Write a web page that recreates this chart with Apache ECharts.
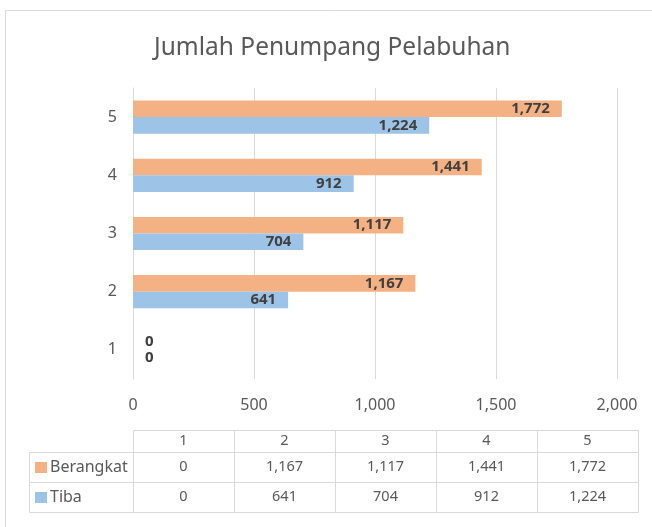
<!DOCTYPE html>
<html>
<head>
<meta charset="utf-8">
<title>Jumlah Penumpang Pelabuhan</title>
<script src="https://cdn.jsdelivr.net/npm/echarts@6/dist/echarts.min.js"></script>
<style>
  html, body { margin: 0; padding: 0; background: #fff; }
  #chart { width: 652px; height: 527px; }
</style>
</head>
<body>
<div id="chart"></div>
<script>
// data
const categories = ['1', '2', '3', '4', '5'];
const berangkat = [0, 1167, 1117, 1441, 1772];
const tiba = [0, 641, 704, 912, 1224];
const xTicks = [0, 500, 1000, 1500, 2000];

const fmt = v => v.toLocaleString('en-US');
const textColor = '#595959';
const lineColor = '#d9d9d9';
const orange = '#f4b183';
const blue = '#9dc3e6';
const font = 'Noto Sans';

// zero bars get their label just right of the axis
function withLabels(values) {
  return values.map(v => v === 0 ? { value: v, label: { position: 'right', distance: 12 } } : v);
}

// data table under the chart
const tbl = { left: 29, keyRight: 133, colW: 101, top: 430, headH: 22, rowH: 30 };
const tableRows = [
  { name: 'Berangkat', color: orange, values: berangkat },
  { name: 'Tiba', color: blue, values: tiba }
];

function cellText(text, x, y) {
  return {
    type: 'text',
    style: { text: text, x: x, y: y, align: 'center', verticalAlign: 'middle',
             fill: textColor, fontSize: 14.5, fontFamily: font }
  };
}
function cellRect(x, y, w, h) {
  return {
    type: 'rect',
    shape: { x: x + 0.5, y: y + 0.5, width: w, height: h },
    style: { fill: 'none', stroke: lineColor, lineWidth: 1 }
  };
}

let graphics = [];
// outer chart border (right and bottom edges fall outside the picture)
graphics.push({
  type: 'rect', z: -10,
  shape: { x: 5.5, y: 10.5, width: 700, height: 600 },
  style: { fill: 'none', stroke: lineColor, lineWidth: 1 }
});
categories.forEach((c, i) => {
  let x = tbl.keyRight + i * tbl.colW;
  graphics.push(cellRect(x, tbl.top, tbl.colW, tbl.headH));
  graphics.push(cellText(c, x + tbl.colW / 2, tbl.top + tbl.headH / 2));
});
tableRows.forEach((row, r) => {
  let y = tbl.top + tbl.headH + r * tbl.rowH;
  graphics.push(cellRect(tbl.left, y, tbl.keyRight - tbl.left, tbl.rowH));
  graphics.push({
    type: 'rect',
    shape: { x: tbl.left + 6, y: y + tbl.rowH / 2 - 5, width: 12, height: 11 },
    style: { fill: row.color }
  });
  graphics.push({
    type: 'text',
    style: { text: row.name, x: tbl.left + 21, y: y + tbl.rowH / 2, align: 'left',
             verticalAlign: 'middle', fill: textColor, fontSize: 16, fontFamily: font }
  });
  row.values.forEach((v, i) => {
    let x = tbl.keyRight + i * tbl.colW;
    graphics.push(cellRect(x, y, tbl.colW, tbl.rowH));
    graphics.push(cellText(fmt(v), x + tbl.colW / 2, y + tbl.rowH / 2));
  });
});

const barLabel = {
  show: true, position: 'insideRight', distance: 12, formatter: p => fmt(p.value),
  color: '#404040', fontWeight: 'bold', fontSize: 15
};

let myChart = echarts.init(document.getElementById('chart'));
myChart.setOption({
  animation: false,
  backgroundColor: '#fff',
  textStyle: { fontFamily: font },
  title: {
    text: 'Jumlah Penumpang Pelabuhan',
    left: 149,
    top: 31,
    textStyle: { fontSize: 24.5, fontWeight: 'normal', color: textColor, fontFamily: font }
  },
  grid: { left: 133, right: 35, top: 88, bottom: 148, containLabel: false },
  xAxis: {
    type: 'value',
    min: xTicks[0],
    max: xTicks[xTicks.length - 1],
    interval: xTicks[1] - xTicks[0],
    axisLine: { show: false },
    axisTick: { show: false },
    splitLine: { lineStyle: { color: lineColor, width: 1 } },
    axisLabel: { formatter: fmt, color: textColor, fontSize: 16, margin: 18 }
  },
  yAxis: {
    type: 'category',
    data: categories,
    axisLine: { show: true, lineStyle: { color: lineColor, width: 1 } },
    axisTick: { show: false },
    axisLabel: { color: textColor, fontSize: 16, margin: 16 }
  },
  series: [
    {
      name: 'Berangkat',
      type: 'bar',
      data: withLabels(berangkat),
      itemStyle: { color: orange },
      barGap: '0%',
      barCategoryGap: '43%',
      label: barLabel
    },
    {
      name: 'Tiba',
      type: 'bar',
      data: withLabels(tiba),
      itemStyle: { color: blue },
      barGap: '0%',
      barCategoryGap: '43%',
      label: barLabel
    }
  ],
  graphic: graphics
});
</script>
</body>
</html>
